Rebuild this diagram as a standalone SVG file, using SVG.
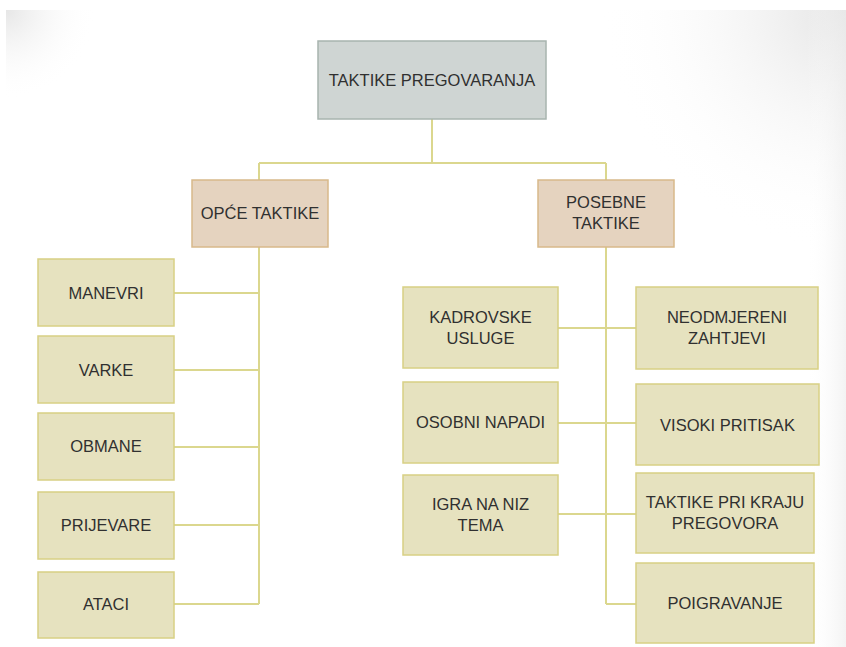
<svg xmlns="http://www.w3.org/2000/svg" width="846" height="647" viewBox="0 0 846 647">
<defs>
<radialGradient id="gTL" cx="0" cy="0" r="1" gradientUnits="objectBoundingBox">
<stop offset="0" stop-color="#e6e6e6"/><stop offset="1" stop-color="#ffffff" stop-opacity="0"/>
</radialGradient>
<radialGradient id="gTR" cx="1" cy="0" r="1" gradientUnits="objectBoundingBox">
<stop offset="0" stop-color="#e4e4e4"/><stop offset="1" stop-color="#ffffff" stop-opacity="0"/>
</radialGradient>
<linearGradient id="gR" x1="0" y1="0" x2="1" y2="0">
<stop offset="0" stop-color="#ffffff" stop-opacity="0"/><stop offset="1" stop-color="#ebebeb"/>
</linearGradient>
</defs>
<style>
.top rect{fill:#cfd5d3;stroke:#a8b4af;stroke-width:1.5}
.mid rect{fill:#e5d3bf;stroke:#d8b98a;stroke-width:1.5}
.leaf rect{fill:#e6e2bf;stroke:#d8d084;stroke-width:1.5}
text{font-family:"Liberation Sans",Arial,sans-serif;font-size:16.5px;fill:#303030;text-anchor:middle;dominant-baseline:central}
#connectors path{fill:none;stroke:#dbd78e;stroke-width:2}
</style>
<rect x="0" y="0" width="846" height="647" fill="#ffffff"/>
<rect x="6" y="10" width="90" height="90" fill="url(#gTL)"/>
<rect x="600" y="10" width="246" height="240" fill="url(#gTR)"/>
<rect x="806" y="10" width="40" height="637" fill="url(#gR)" opacity="0.6"/>

<g id="connectors">
<path d="M432 119 V163 M259 163 H606 M259 163 V604 M174 293 H259 M174 370 H259 M174 447 H259 M174 525 H259 M174 604 H259"/>
<path d="M606 163 V604 M558 328 H636 M558 423 H636 M558 514 H636 M606 604 H636"/>
</g>

<g id="n-root" class="top"><rect x="318" y="41" width="228" height="78"/><text x="432" y="80">TAKTIKE PREGOVARANJA</text></g>
<g id="n-opce" class="mid"><rect x="192" y="180" width="136" height="67"/><text x="260" y="213">OPĆE TAKTIKE</text></g>
<g id="n-posebne" class="mid"><rect x="538" y="180" width="136" height="67"/><text x="606" y="202">POSEBNE</text><text x="606" y="223">TAKTIKE</text></g>

<g id="n-manevri" class="leaf"><rect x="38" y="259" width="136" height="67"/><text x="106" y="293">MANEVRI</text></g>
<g id="n-varke" class="leaf"><rect x="38" y="336" width="136" height="67"/><text x="106" y="370">VARKE</text></g>
<g id="n-obmane" class="leaf"><rect x="38" y="413" width="136" height="67"/><text x="106" y="446">OBMANE</text></g>
<g id="n-prijevare" class="leaf"><rect x="38" y="492" width="136" height="67"/><text x="106" y="525">PRIJEVARE</text></g>
<g id="n-ataci" class="leaf"><rect x="38" y="572" width="136" height="66"/><text x="106" y="604">ATACI</text></g>

<g id="n-kadrovske" class="leaf"><rect x="403" y="287" width="155" height="81"/><text x="480.5" y="317">KADROVSKE</text><text x="480.5" y="338">USLUGE</text></g>
<g id="n-osobni" class="leaf"><rect x="403" y="382" width="155" height="81"/><text x="480.5" y="422">OSOBNI NAPADI</text></g>
<g id="n-igra" class="leaf"><rect x="403" y="475" width="155" height="80"/><text x="480.5" y="504">IGRA NA NIZ</text><text x="480.5" y="525">TEMA</text></g>

<g id="n-neodmjereni" class="leaf"><rect x="636" y="287" width="182" height="82"/><text x="727" y="317">NEODMJERENI</text><text x="727" y="338">ZAHTJEVI</text></g>
<g id="n-visoki" class="leaf"><rect x="636" y="384" width="183" height="81"/><text x="727.5" y="425">VISOKI PRITISAK</text></g>
<g id="n-kraj" class="leaf"><rect x="636" y="473" width="178" height="80"/><text x="725" y="502">TAKTIKE PRI KRAJU</text><text x="725" y="523">PREGOVORA</text></g>
<g id="n-poigravanje" class="leaf"><rect x="636" y="563" width="178" height="80"/><text x="725" y="603">POIGRAVANJE</text></g>
</svg>
